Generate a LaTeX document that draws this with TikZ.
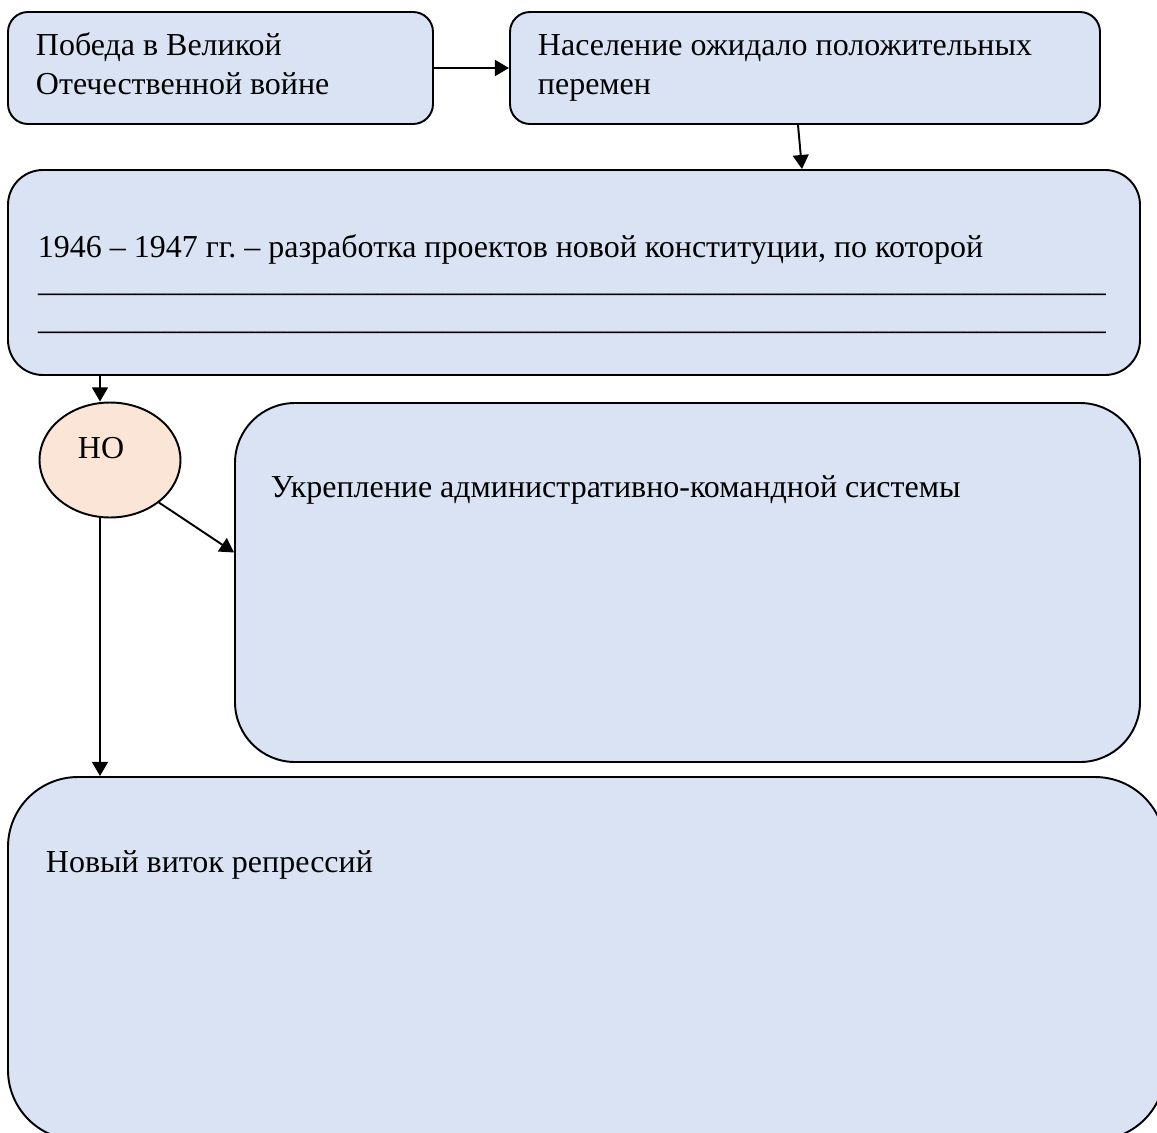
\documentclass[tikz,border=0pt]{standalone}
\usepackage{fontspec}
\setmainfont{Liberation Serif}
\usetikzlibrary{positioning,arrows.meta,shapes.geometric,fit}
\definecolor{boxblue}{HTML}{DAE3F3}
\definecolor{peach}{HTML}{FBE5D6}
\newcommand{\blankline}{\hbox to 608pt{\xleaders\hbox{\_}\hfill}}
\frenchspacing

\begin{document}
\begin{tikzpicture}[x=0.02cm, y=-0.02cm, line width=1.1pt,
  box/.style={draw, fill=boxblue, rounded corners=#1, inner sep=0pt},
  box/.default=0.4cm,
  txt/.style={anchor=base west, inner sep=0pt, align=left, font=\fontsize{18.2}{22.1}\selectfont},
  arr/.style={-{Triangle[length=8pt,width=9pt]}}]
  \useasboundingbox (0,0) rectangle (1157,1133);
  \coordinate (stem) at (100,0);
  \coordinate (bx) at (798,0);
  \coordinate (cx) at (802,0);

  \node[box, fit={(8,12) (433,124)}] (pobeda) {};
  \node[box, fit={(510,12) (1100,124)}] (naselenie) {};
  \node[box=0.7cm, fit={(8,170) (1140,375)}] (proekt) {};
  \node[box=1.2cm, fit={(235,403) (1140,762)}] (ukrep) {};
  \node[box=1.4cm, fit={(8,777) (1165,1140)}] (repr) {};
  \node[draw, ellipse, fill=peach, minimum width=2.82cm, minimum height=2.3cm, inner sep=0pt] (no) at (110,460) {};

  \node[txt] (pobedatxt) at (35,94) {Победа в Великой\\Отечественной войне};
  \node[txt] (naselenietxt) at (537,94) {Население ожидало положительных\\перемен};
  \node[txt] (proekttxt) at (37,257) {1946 – 1947 гг. – разработка проектов новой конституции, по которой};
  \node[txt] (line1) at (37,291) {\blankline};
  \node[txt] (line2) at (37,329) {\blankline};
  \node[txt] (notxt) at (77,458) {НО};
  \node[txt] (ukreptxt) at (270,497) {Укрепление административно-командной системы};
  \node[txt] (reprtxt) at (45,872) {Новый виток репрессий};

  \draw[arr] (pobeda) -- (naselenie);
  \draw[arr] (naselenie.south -| bx) -- (proekt.north -| cx);
  \draw[arr] (proekt.south -| stem) -- (no.north -| stem);
  \draw[arr] (no.-41) -- ([yshift=0.6cm]ukrep.west);
  \draw[arr] (no.south -| stem) -- (repr.north -| stem);
\end{tikzpicture}
\end{document}
